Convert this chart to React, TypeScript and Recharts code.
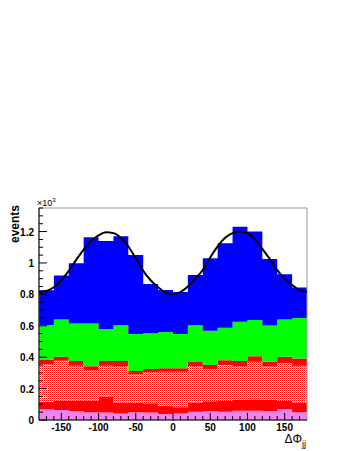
import React from "react";
import { ComposedChart, Area, Line, XAxis, YAxis, ReferenceArea } from "recharts";

// delta phi_jj histogram: 18 bins of 20 degrees, contents in events
const binLow = [-180, -160, -140, -120, -100, -80, -60, -40, -20, 0, 20, 40, 60, 80, 100, 120, 140, 160];
const violet = [68, 64, 57, 49, 47, 42, 49, 47, 38, 42, 53, 57, 53, 59, 59, 57, 68, 49];
const redLow = [49, 58, 65, 73, 102, 68, 61, 59, 51, 39, 59, 63, 68, 68, 72, 70, 53, 61];
const hatched = [238, 256, 224, 196, 197, 234, 180, 198, 219, 227, 232, 203, 229, 217, 240, 213, 240, 236];
const redThin = [31, 25, 30, 24, 30, 32, 22, 21, 22, 22, 26, 27, 30, 32, 35, 31, 42, 45];
const green = [219, 237, 239, 273, 204, 227, 236, 227, 230, 218, 233, 218, 208, 250, 230, 231, 237, 258];
const blue = [221, 280, 383, 548, 560, 567, 502, 314, 268, 267, 320, 462, 537, 604, 564, 423, 288, 194];

// fitted curve, read every 10 degrees
const fitX = [-180, -170, -160, -150, -140, -130, -120, -110, -100, -90, -80, -70, -60, -50, -40, -30, -20, -10, 0,
  10, 20, 30, 40, 50, 60, 70, 80, 90, 100, 110, 120, 130, 140, 150, 160, 170, 180];
const fitY = [815, 822, 845, 890, 950, 1020, 1085, 1140, 1175, 1195, 1190, 1160, 1105, 1030, 950, 890, 845, 810, 800,
  815, 850, 900, 955, 1035, 1105, 1160, 1190, 1200, 1190, 1150, 1090, 1025, 955, 900, 860, 825, 815];

const xLabels = [-150, -100, -50, 0, 50, 100, 150];
const yLabels = [0, 200, 400, 600, 800, 1000, 1200];

const xTicks = Array.from({ length: 35 }, (_, i) => -170 + i * 10);
const yTicks = Array.from({ length: 28 }, (_, i) => i * 50);

const data = fitX.map((x, i) => {
  const b = Math.min(binLow.length - 1, binLow.filter((e) => e <= x).length - 1);
  return {
    phi: x,
    violet: violet[b],
    redLow: redLow[b],
    hatched: hatched[b],
    redThin: redThin[b],
    green: green[b],
    blue: blue[b],
    fit: fitY[i],
  };
});

const labelFont = "'Liberation Sans', Arial, sans-serif";

const YTick = (props: any) => {
  const { x, y, payload } = props;
  const v = payload.value;
  const major = yLabels.includes(v);
  return (
    <g>
      <line x1={x} x2={x + (major ? 8 : 4)} y1={y} y2={y} stroke="#000" />
      {major && (
        <text x={x - 5} y={y} dy={4} textAnchor="end" fontSize={10} fontWeight="bold" fontFamily={labelFont} fill="#000">
          {v / 1000}
        </text>
      )}
    </g>
  );
};

const XTick = (props: any) => {
  const { x, y, payload } = props;
  const v = payload.value;
  const major = xLabels.includes(v);
  return (
    <g>
      <line x1={x} x2={x} y1={y} y2={y - (major ? 7 : 4)} stroke="#000" />
      {major && (
        <text x={x} y={y} dy={11} textAnchor="middle" fontSize={10} fontWeight="bold" fontFamily={labelFont} fill="#000">
          {v}
        </text>
      )}
    </g>
  );
};

export default function App() {
  return (
    <div style={{ position: "absolute", left: 0, top: 0, width: 349, height: 451, background: "#fff" }}>
      <ComposedChart width={349} height={451} data={data} margin={{ top: 208, right: 42, bottom: 0, left: 0 }}>
        <defs>
          <pattern id="checker" width={2} height={2} patternUnits="userSpaceOnUse">
            <rect width={2} height={2} fill="#fff" shapeRendering="crispEdges" />
            <rect x={0} y={0} width={1} height={1} fill="#ff0000" shapeRendering="crispEdges" />
            <rect x={1} y={1} width={1} height={1} fill="#ff8080" shapeRendering="crispEdges" />
          </pattern>
        </defs>
        <Area type="stepAfter" dataKey="violet" stackId="s" fill="#ee82ee" fillOpacity={1} stroke="none" isAnimationActive={false} />
        <Area type="stepAfter" dataKey="redLow" stackId="s" fill="#ff0000" fillOpacity={1} stroke="none" isAnimationActive={false} />
        <Area type="stepAfter" dataKey="hatched" stackId="s" fill="url(#checker)" fillOpacity={1} stroke="none" isAnimationActive={false} />
        <Area type="stepAfter" dataKey="redThin" stackId="s" fill="#ff0000" fillOpacity={1} stroke="none" isAnimationActive={false} />
        <Area type="stepAfter" dataKey="green" stackId="s" fill="#00ff00" fillOpacity={1} stroke="none" isAnimationActive={false} />
        <Area type="stepAfter" dataKey="blue" stackId="s" fill="#0000ff" fillOpacity={1} stroke="none" isAnimationActive={false} />
        <Line type="monotone" dataKey="fit" stroke="#000" strokeWidth={2} dot={false} isAnimationActive={false} />
        <ReferenceArea x1={-180} x2={180} y1={0} y2={1350} fill="none" stroke="#999" strokeOpacity={1} fillOpacity={0} />
        <XAxis
          dataKey="phi"
          type="number"
          domain={[-180, 180]}
          ticks={xTicks}
          interval={0}
          tickSize={0}
          tickMargin={0}
          tickLine={false}
          axisLine={{ stroke: "#000" }}
          height={31}
          tick={<XTick />}
        />
        <YAxis
          type="number"
          domain={[0, 1350]}
          ticks={yTicks}
          interval={0}
          tickSize={0}
          tickMargin={0}
          tickLine={false}
          axisLine={{ stroke: "#000" }}
          width={39}
          tick={<YTick />}
        />
        <text x={37} y={206} fontSize={9} fontFamily={labelFont} fill="#000">
          ×10<tspan dy={-4} fontSize={6}>3</tspan>
        </text>
        <text transform="rotate(-90)" x={-205} y={19} textAnchor="end" fontSize={12} fontWeight="bold" fontFamily={labelFont} fill="#000">
          events
        </text>
        <text x={306} y={443} textAnchor="end" fontSize={12} fontFamily={labelFont} fill="#000">
          ΔΦ<tspan dy={4} fontSize={9}>jj</tspan>
        </text>
      </ComposedChart>
    </div>
  );
}
